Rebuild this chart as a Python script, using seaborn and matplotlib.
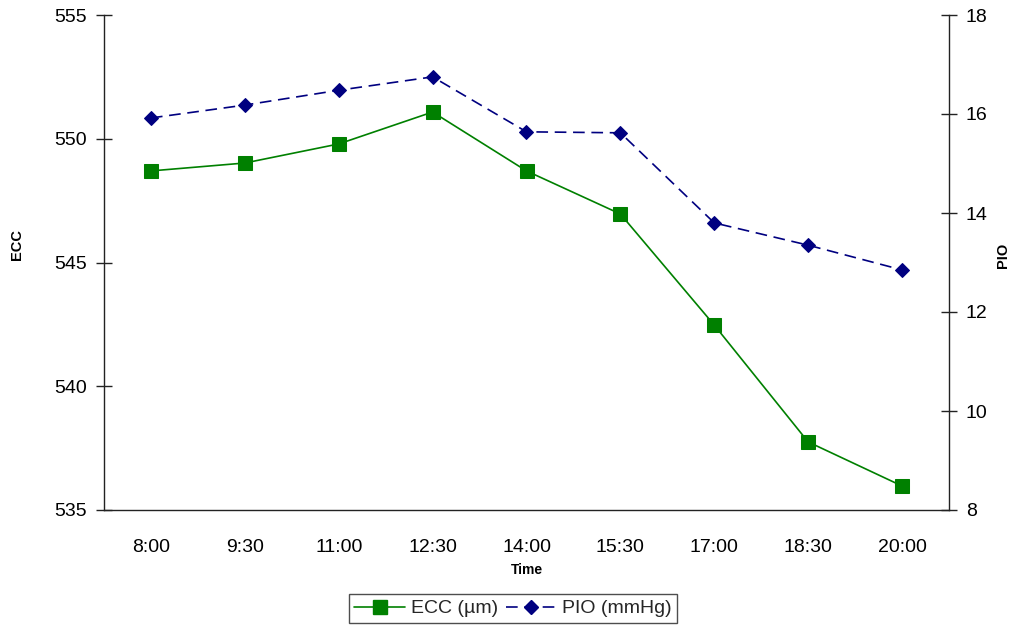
import matplotlib
matplotlib.use("Agg")
import matplotlib.pyplot as plt
from matplotlib import font_manager
import seaborn as sns
import pandas as pd
from matplotlib.lines import Line2D

times = ["8:00", "9:30", "11:00", "12:30", "14:00", "15:30", "17:00", "18:30", "20:00"]
ecc_um = [548.70, 549.02, 549.79, 551.08, 548.70, 546.96, 542.47, 537.75, 535.97]
pio_mmhg = [15.92, 16.18, 16.48, 16.75, 15.64, 15.62, 13.80, 13.35, 12.85]

# keep the regular-width Liberation Sans (drop the condensed cut)
font_manager.fontManager.ttflist = [
    f for f in font_manager.fontManager.ttflist if "Narrow" not in f.fname
]

sns.set_theme(style="white")
plt.rcParams["font.family"] = ["Liberation Sans", "DejaVu Sans"]

df = pd.DataFrame({"x": range(len(times)), "ecc": ecc_um, "pio": pio_mmhg})

W, H = 1015, 626
L, R, T, B = 104, 949, 15, 510
fig = plt.figure(figsize=(W / 100, H / 100), dpi=100)
ax = fig.add_axes([L / W, 1 - B / H, (R - L) / W, (B - T) / H])
ax2 = ax.twinx()

green = "#008000"
navy = "#000080"

sns.lineplot(data=df, x="x", y="ecc", ax=ax, color=green, marker="s",
             markersize=9.5, markeredgecolor=green, linewidth=1.2)
sns.lineplot(data=df, x="x", y="pio", ax=ax2, color=navy, marker="D",
             markersize=7.5, markeredgecolor=navy, linewidth=1.2)
ax2.lines[0].set_dashes([7, 4])

ax.set_xlim(-0.5, len(times) - 0.5)
ax.set_ylim(535, 555)
ax2.set_ylim(8, 18)
ax.set_yticks([535, 540, 545, 550, 555])
ax2.set_yticks([8, 10, 12, 14, 16, 18])

# category boundaries carry the ticks, labels sit at category centres
ax.set_xticks([i + 0.5 for i in range(-1, len(times))])
ax.set_xticklabels([])
ax.set_xticks(range(len(times)), minor=True)
ax.set_xticklabels(times, minor=True)
ax.tick_params(axis="x", which="minor", length=0, pad=21, labelsize=14, labelcolor="black")
ax.tick_params(axis="x", which="major", direction="inout", length=12, width=1, color="#222222")
ax.tick_params(axis="y", direction="inout", length=12, width=1, color="#222222",
               labelsize=14, pad=6, labelcolor="black")
ax2.tick_params(axis="y", direction="inout", length=12, width=1, color="#222222",
                labelsize=14, pad=6, labelcolor="black")

for a in (ax, ax2):
    a.spines["top"].set_visible(False)
    for s in ("left", "right", "bottom"):
        a.spines[s].set_color("#222222")
        a.spines[s].set_linewidth(1)
    a.grid(False)
ax.spines["right"].set_visible(False)
ax2.spines["left"].set_visible(False)
ax2.spines["bottom"].set_visible(False)

ax.set_xlabel("Time", fontsize=10, fontweight="bold", color="black")
ax.set_ylabel("ECC", fontsize=10.5, fontweight="bold", color="black")
ax2.set_ylabel("PIO", fontsize=10.5, fontweight="bold", color="black")
ax.xaxis.set_label_coords((527 - L) / (R - L), (B - 570) / (B - T))
ax.yaxis.set_label_coords((17 - L) / (R - L), (B - 245) / (B - T))
ax2.yaxis.set_label_coords((1003 - L) / (R - L), (B - 255) / (B - T))
ax.xaxis.label.set_va("center")
ax.yaxis.label.set_va("center")
ax2.yaxis.label.set_va("center")

handles = [
    Line2D([], [], color=green, marker="s", markersize=9.5, linewidth=1.2),
    Line2D([], [], color=navy, marker="D", markersize=7.5, linewidth=1.2, dashes=[7, 4]),
]
fig.legend(handles, ["ECC (µm)", "PIO (mmHg)"], loc="center",
           bbox_to_anchor=(513 / W, 1 - 608.5 / H),
           ncol=2, frameon=True, fancybox=False, edgecolor="#222222", fontsize=14,
           handlelength=2.6, columnspacing=0.4, handletextpad=0.3, borderpad=0.3,
           borderaxespad=0)

fig.savefig("out.png", dpi=100, facecolor="white")
